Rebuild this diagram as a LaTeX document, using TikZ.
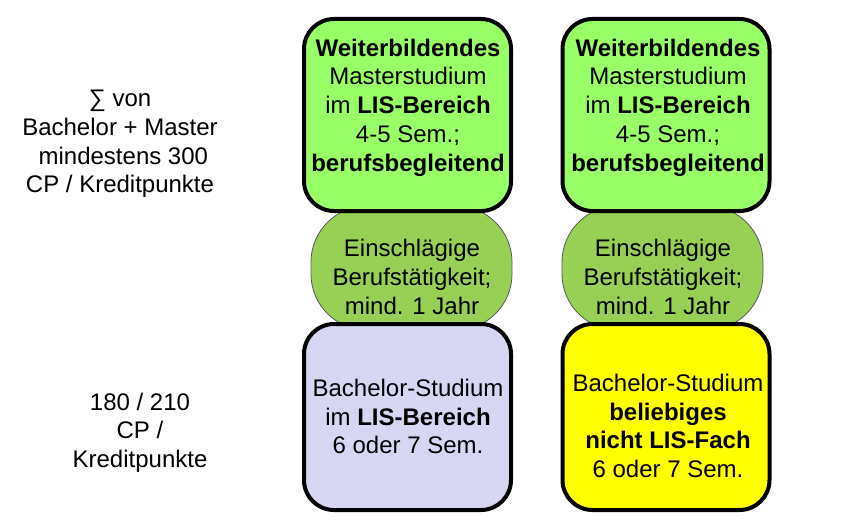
\documentclass[tikz,border=0pt]{standalone}
\usepackage{fontspec}
\setmainfont{Liberation Sans}
\usetikzlibrary{positioning}
\definecolor{mastergreen}{HTML}{99FF66}
\definecolor{jobgreen}{HTML}{97D055}
\definecolor{lislilac}{HTML}{D7D7F4}
\definecolor{anyyellow}{HTML}{FFFF00}

\begin{document}
\begin{tikzpicture}[
    x=1pt, y=-1pt,
    every node/.style={font=\fontsize{24}{28.7}\selectfont, align=center,
                       inner sep=0pt},
    studybox/.style={draw=black, line width=4pt, rounded corners=30pt,
                     minimum width=207pt},
    jobblob/.style={draw=black!65, line width=0.8pt, fill=jobgreen,
                    rounded corners=56pt, minimum width=201pt,
                    minimum height=124pt}
  ]
  \useasboundingbox (0,0) rectangle (859,532);
  % work experience, behind the study boxes
  \node[jobblob] (jobL) at (411.5,268) {};
  \node[jobblob] (jobR) at (662.5,268) {};
  \node (jobLtxt) at (412,277) {Einschlägige\\Berufstätigkeit;\\mind. 1 Jahr};
  \node (jobRtxt) at (663,277) {Einschlägige\\Berufstätigkeit;\\mind. 1 Jahr};
  % master
  \node[studybox, fill=mastergreen, minimum height=192pt] (masterL) at (407.5,115) {};
  \node[studybox, fill=mastergreen, minimum height=192pt] (masterR) at (666,115) {};
  \node (masterLtxt) at (408,107.5)
    {\textbf{Weiterbildendes}\\Masterstudium\\im \textbf{LIS-Bereich}\\4-5 Sem.;\\\textbf{berufsbegleitend}};
  \node (masterRtxt) at (668,107.5)
    {\textbf{Weiterbildendes}\\Masterstudium\\im \textbf{LIS-Bereich}\\4-5 Sem.;\\\textbf{berufsbegleitend}};
  % bachelor
  \node[studybox, fill=lislilac, minimum height=186pt] (bachL) at (407.5,417) {};
  \node[studybox, fill=anyyellow, minimum height=186pt] (bachR) at (666,417) {};
  \node (bachLtxt) at (408,416.5)
    {Bachelor-Studium\\im \textbf{LIS-Bereich}\\6 oder 7 Sem.};
  \node (bachRtxt) at (668,426)
    {Bachelor-Studium\\\textbf{beliebiges}\\\textbf{nicht LIS-Fach}\\6 oder 7 Sem.};
  % credit points
  \node (sumCP) at (120,144)
    {∑ von\\Bachelor + Master\\\hspace*{0.28em}mindestens 300\\CP / Kreditpunkte};
  \node (bachCP) at (140,432.5) {180 / 210\\CP /\\Kreditpunkte};
\end{tikzpicture}
\end{document}
